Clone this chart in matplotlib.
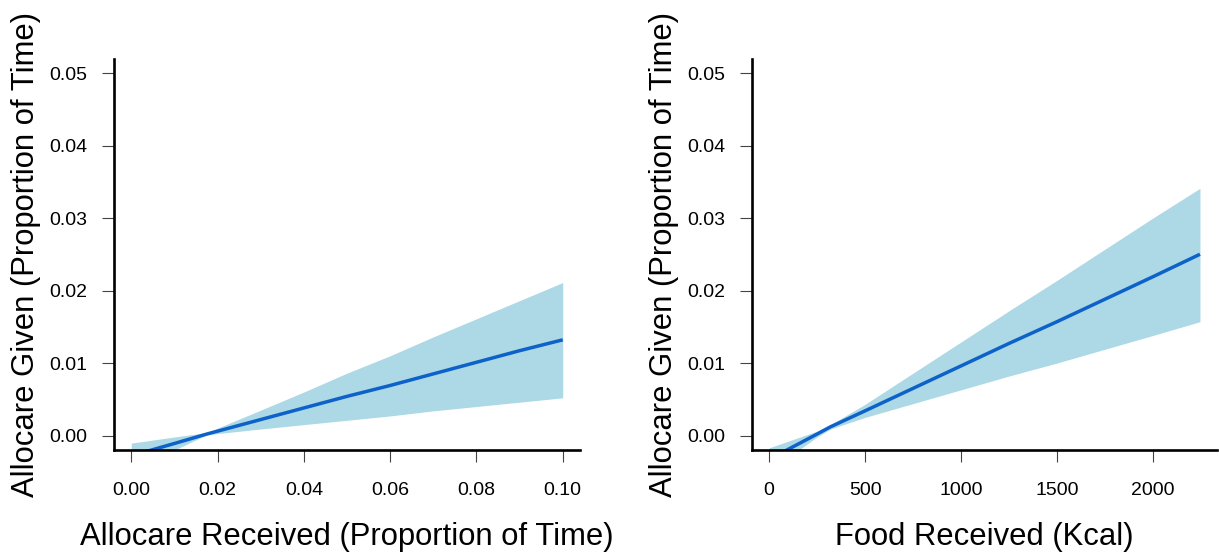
import matplotlib
matplotlib.use("Agg")
import matplotlib.pyplot as plt

plt.rcParams['font.family'] = ['Liberation Sans', 'DejaVu Sans']

# left panel: allocare received vs allocare given (fit + confidence band)
alloc_x = [0.00, 0.01, 0.0175, 0.03, 0.04, 0.05, 0.06, 0.07, 0.08, 0.09, 0.10]
alloc_fit = [-0.0028, -0.0011, 0.0002, 0.0022, 0.0038, 0.0054, 0.0069, 0.0085, 0.0101, 0.0117, 0.0132]
alloc_upper = [-0.00105, -0.0002, 0.0004, 0.0035, 0.0060, 0.0086, 0.0110, 0.0136, 0.0161, 0.0186, 0.0211]
alloc_lower = [-0.0045, -0.0020, 0.0001, 0.0009, 0.0015, 0.0021, 0.0027, 0.0034, 0.0040, 0.0046, 0.0052]

# right panel: food received (kcal) vs allocare given
food_x = [0, 250, 320, 500, 750, 1000, 1250, 1500, 1750, 2000, 2245]
food_fit = [-0.0033, 0.0002, 0.0012, 0.0034, 0.0065, 0.0096, 0.0127, 0.0157, 0.0188, 0.0219, 0.0250]
food_upper = [-0.0017, 0.0006, 0.0015, 0.0043, 0.0086, 0.0129, 0.0172, 0.0214, 0.0257, 0.0300, 0.0341]
food_lower = [-0.0049, -0.0002, 0.0009, 0.0025, 0.0044, 0.0063, 0.0082, 0.0100, 0.0119, 0.0138, 0.0157]

y_ticks = [0.00, 0.01, 0.02, 0.03, 0.04, 0.05]
alloc_ticks = [0.00, 0.02, 0.04, 0.06, 0.08, 0.10]
food_ticks = [0, 500, 1000, 1500, 2000]

band_col = '#ADD8E6'
line_col = '#0D62C9'
ylab = 'Allocare Given (Proportion of Time)'

fig = plt.figure(figsize=(12.19, 5.54), dpi=100)
ax1 = fig.add_axes([0.0935, 0.1877, 0.3823, 0.7067])
ax2 = fig.add_axes([0.6169, 0.1877, 0.3815, 0.7067])


def style_axis(ax, xs, fit, lo, hi, xticks, xlim, xfmt, xlabel):
    ax.fill_between(xs, lo, hi, color=band_col, linewidth=0)
    ax.plot(xs, fit, color=line_col, lw=2.5, solid_capstyle='butt')
    ax.set_xlim(*xlim)
    ax.set_ylim(-0.002, 0.052)
    ax.set_xticks(xticks)
    ax.set_xticklabels([xfmt % v for v in xticks])
    ax.set_yticks(y_ticks)
    ax.set_yticklabels(['%.2f' % v for v in y_ticks])
    for s in ['top', 'right']:
        ax.spines[s].set_visible(False)
    for s in ['left', 'bottom']:
        ax.spines[s].set_linewidth(1.9)
        ax.spines[s].set_color('black')
        ax.spines[s].set_capstyle('projecting')
    ax.tick_params(axis='both', direction='out', length=8.7, width=0.8,
                   color='#444444', labelsize=14)
    ax.tick_params(axis='x', pad=14)
    ax.tick_params(axis='y', pad=10.5)
    ax.set_xlabel(xlabel, fontsize=22.3)
    ax.xaxis.set_label_coords(0.5, -0.184)
    ax.set_ylabel(ylab, fontsize=22.3)
    ax.yaxis.set_label_coords(-0.156, 0.5)


style_axis(ax1, alloc_x, alloc_fit, alloc_lower, alloc_upper, alloc_ticks,
           (-0.004, 0.104), '%.2f', 'Allocare Received (Proportion of Time)')
style_axis(ax2, food_x, food_fit, food_lower, food_upper, food_ticks,
           (-89, 2334), '%d', 'Food Received (Kcal)')
ax2.yaxis.set_label_coords(-0.1565, 0.5)

plt.savefig('out.png', dpi=100)
plt.close()
